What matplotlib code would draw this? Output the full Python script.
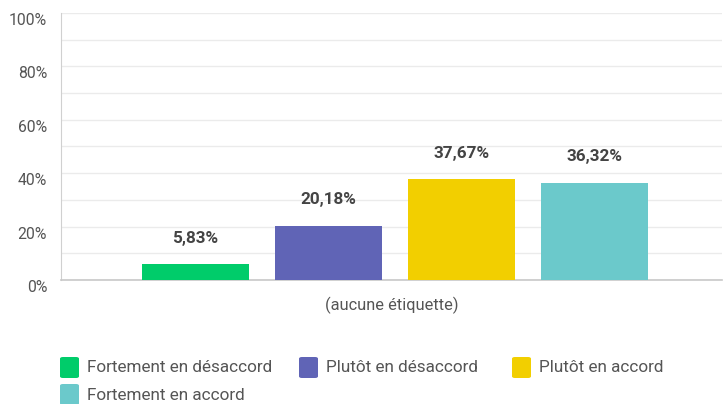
import matplotlib
matplotlib.use("Agg")
import matplotlib.pyplot as plt
from matplotlib.patches import FancyBboxPatch
from matplotlib.transforms import ScaledTranslation

categories = ["Fortement en désaccord", "Plutôt en désaccord", "Plutôt en accord", "Fortement en accord"]
values = [5.83, 20.18, 37.67, 36.32]
value_labels = ["5,83%", "20,18%", "37,67%", "36,32%"]
colors = ["#00CC6A", "#6064B6", "#F2CF00", "#6BC9CB"]
yticks = [0, 20, 40, 60, 80, 100]
ytick_labels = ["0%", "20%", "40%", "60%", "80%", "100%"]
xlabel = "(aucune étiquette)"

plt.rcParams['font.family'] = ['Roboto', 'DejaVu Sans']

W, H = 723, 404
fig = plt.figure(figsize=(W / 100, H / 100), dpi=100)
ax = fig.add_axes([61 / W, 1 - 280 / H, 661 / W, 267 / H])

x = list(range(len(values)))
ax.bar(x, values, width=0.80, color=colors, zorder=3)
for xi, v, lab in zip(x, values, value_labels):
    ax.annotate(lab, (xi, v), xytext=(0, 19), textcoords="offset points",
                ha="center", va="center", fontsize=12.3, fontweight="bold",
                color="#444444")

ax.set_xlim(-1.01, 3.96)
ax.set_ylim(0, 100)
ax.set_yticks(yticks)
ax.set_yticklabels(ytick_labels)
ax.set_yticks(range(10, 100, 20), minor=True)
ax.grid(axis="y", which="both", color="#EBEBEB", linewidth=1, zorder=0)
ax.set_xticks([])
ax.tick_params(axis="y", which="both", length=0, labelsize=11.3, colors="#555555", pad=10)
offset = ScaledTranslation(0, -6 / 100, fig.dpi_scale_trans)
for lab in ax.get_yticklabels():
    lab.set_transform(lab.get_transform() + offset)

for s in ["top", "right"]:
    ax.spines[s].set_visible(False)
ax.spines["left"].set_color("#D0D0D0")
ax.spines["bottom"].set_color("#C8C8C8")
ax.spines["bottom"].set_linewidth(1.2)

ax.set_xlabel(xlabel, fontsize=11.8, color="#555555", labelpad=12)

# legend
legend_pos = [(60, 368), (299, 368), (512, 368), (60, 395)]
for (lx, ly), c, name in zip(legend_pos, colors, categories):
    p = FancyBboxPatch((lx / W, (H - ly - 10) / H), 19 / W, 21 / H,
                       boxstyle="round,pad=0,rounding_size=0.004",
                       transform=fig.transFigure, facecolor=c, edgecolor="none")
    fig.patches.append(p)
    fig.text((lx + 27) / W, (H - ly) / H, name, fontsize=12.3, color="#555555",
             va="center", ha="left")

fig.savefig("out.png", dpi=100)
